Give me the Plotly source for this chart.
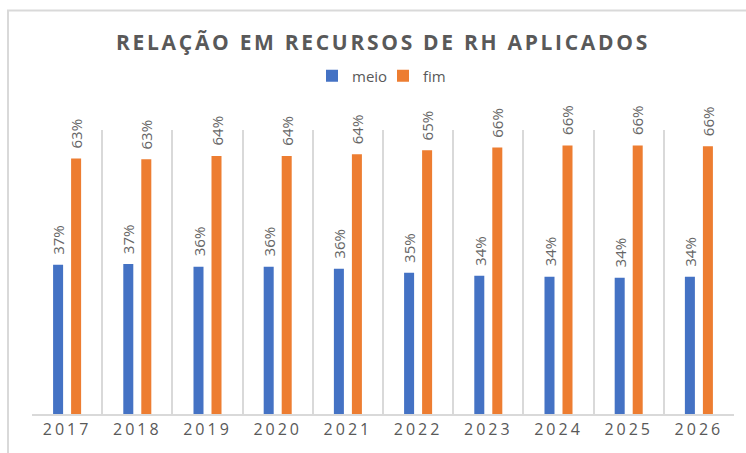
import plotly.graph_objects as go

years = ["2017", "2018", "2019", "2020", "2021", "2022", "2023", "2024", "2025", "2026"]
meio = [36.8, 37.0, 36.3, 36.3, 35.8, 34.8, 34.1, 33.8, 33.6, 33.8]
fim = [63.0, 62.8, 63.6, 63.6, 64.0, 65.0, 65.7, 66.2, 66.2, 66.0]
series_names = ["meio", "fim"]
title_text = "RELAÇÃO EM RECURSOS DE RH APLICADOS"

BLUE = "#4472C4"
ORANGE = "#ED7D31"
GRAY = "#595959"
LINE = "#D9D9D9"
BARGAP = 0.487
BARGROUPGAP = 0.444

fig = go.Figure()
fig.add_trace(go.Bar(x=years, y=meio, name=series_names[0], marker_color=BLUE,
                     marker_line_width=0))
fig.add_trace(go.Bar(x=years, y=fim, name=series_names[1], marker_color=ORANGE,
                     marker_line_width=0))

slot = (1 - BARGAP) / 2
ann = []
for i in range(len(years)):
    for vals, off in ((meio, -slot / 2), (fim, slot / 2)):
        v = vals[i]
        ann.append(dict(x=i + off, y=v, xref="x", yref="y", text=f"{round(v)}%",
                        textangle=-90, showarrow=False, yanchor="bottom", xanchor="center",
                        yshift=8, font=dict(family="Open Sans", size=15, color="#666666")))

fig.update_layout(
    width=746, height=453,
    margin=dict(l=32, r=12, t=130, b=39),
    paper_bgcolor="white", plot_bgcolor="white",
    barmode="group", bargap=BARGAP, bargroupgap=BARGROUPGAP,
    title=dict(text=title_text, x=0.5, xref="paper", xanchor="center",
               y=1 - 43 / 453, yref="container", yanchor="middle",
               font=dict(family="Open Sans", size=21, color=GRAY, weight="bold")),
    legend=dict(orientation="h", x=0.5, xanchor="center", y=1.19, yanchor="middle",
                font=dict(family="Open Sans", size=15, color=GRAY),
                itemwidth=30, entrywidth=26, entrywidthmode="pixels",
                bgcolor="rgba(0,0,0,0)"),
    xaxis=dict(type="category", range=[-0.5, len(years) - 0.5], tickson="boundaries",
               showgrid=True, gridcolor=LINE, gridwidth=2,
               showline=True, linecolor=LINE, linewidth=2, ticks="",
               tickfont=dict(family="Open Sans", size=16, color=GRAY)),
    yaxis=dict(range=[0, 70], visible=False, showgrid=False, zeroline=False),
    annotations=ann,
    shapes=[dict(type="rect", xref="paper", yref="paper",
                 x0=(8 - 32) / 702, x1=(760 - 32) / 702,
                 y0=(414 - 470) / 284, y1=(414 - 10.5) / 284,
                 line=dict(color=LINE, width=2), fillcolor="rgba(0,0,0,0)", layer="below")],
)

post = """
document.body.style.margin='0';
document.body.style.padding='0';
var s=document.createElement('style');
s.textContent='html,body{margin:0;padding:0;overflow:hidden} .gtitle{letter-spacing:2.7px} .xtick text{letter-spacing:3px}';
document.head.appendChild(s);
"""
fig.write_html("out.html", post_script=post, config={"displayModeBar": False})
